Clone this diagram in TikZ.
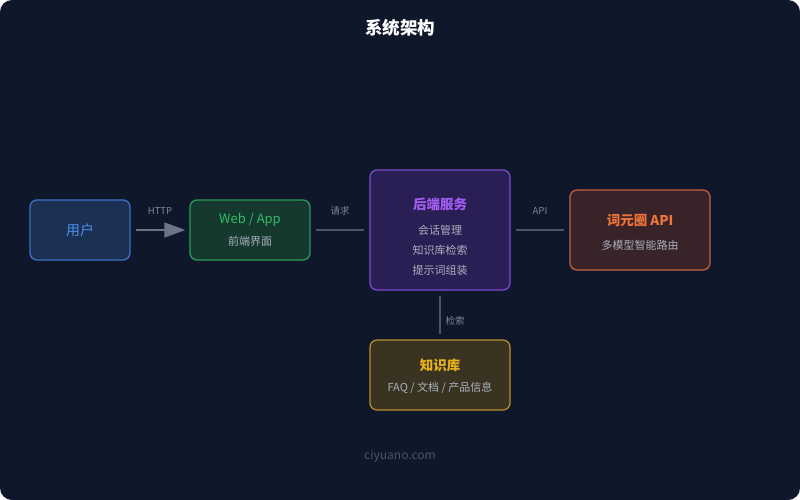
\documentclass[tikz,border=0pt]{standalone}
\usepackage{fontspec}
\setmainfont{Noto Sans CJK SC}
\usetikzlibrary{arrows.meta}

\definecolor{bgnavy}{HTML}{0F172A}
\definecolor{linegray}{HTML}{4B5568}
\definecolor{arrowgray}{HTML}{6B7585}
\definecolor{labelgray}{HTML}{7C8799}
\definecolor{subgray}{HTML}{A9B1BD}
\definecolor{footgray}{HTML}{4A5568}
% box colours
\definecolor{userfill}{HTML}{1B3052}
\definecolor{userdraw}{HTML}{3C71C9}
\definecolor{usertext}{HTML}{4F8FEA}
\definecolor{webfill}{HTML}{15382F}
\definecolor{webdraw}{HTML}{2B9A56}
\definecolor{webtext}{HTML}{2DBF63}
\definecolor{befill}{HTML}{2A1F54}
\definecolor{bedraw}{HTML}{7A4BD0}
\definecolor{betext}{HTML}{A35CF2}
\definecolor{apifill}{HTML}{372328}
\definecolor{apidraw}{HTML}{C2613E}
\definecolor{apitext}{HTML}{F0743A}
\definecolor{kbfill}{HTML}{3A3321}
\definecolor{kbdraw}{HTML}{B68F22}
\definecolor{kbtext}{HTML}{E6B21C}

\begin{document}
\begin{tikzpicture}[x=1pt, y=-1pt,
  box/.style={rounded corners=7pt, line width=1.3pt, inner sep=0pt},
  title/.style={font=\fontsize{13.5}{15}\selectfont\bfseries},
  sub/.style={font=\fontsize{11}{13}\selectfont, text=subgray},
  lbl/.style={font=\fontsize{9.5}{11}\selectfont, text=labelgray},
  link/.style={draw=linegray, line width=1.6pt}]
  \useasboundingbox (0,0) rectangle (800,500);
  \fill[white] (0,0) rectangle (800,500);
  \fill[bgnavy, rounded corners=12pt] (0,0) rectangle (800,500);

  \node[font=\fontsize{17.5}{19}\selectfont\bfseries, text=white] (head) at (400,28) {系统架构};

  % 五个框
  \node[box, fill=userfill, draw=userdraw, minimum width=100pt, minimum height=60pt] (user) at (80,230) {};
  \node[box, fill=webfill, draw=webdraw, minimum width=120pt, minimum height=60pt] (web) at (250,230) {};
  \node[box, fill=befill, draw=bedraw, minimum width=140pt, minimum height=120pt] (be) at (440,230) {};
  \node[box, fill=apifill, draw=apidraw, minimum width=140pt, minimum height=80pt] (api) at (640,230) {};
  \node[box, fill=kbfill, draw=kbdraw, minimum width=140pt, minimum height=70pt] (kb) at (440,375) {};

  % 框内文字
  \node[font=\fontsize{14}{16}\selectfont, text=usertext] at (user) {用户};
  \node[font=\fontsize{13}{15}\selectfont, text=webtext] at (250,220) {Web / App};
  \node[sub] at (250,241) {前端界面};
  \node[title, text=betext] at (440,204) {后端服务};
  \node[sub] at (440,230) {会话管理};
  \node[sub] at (440,250) {知识库检索};
  \node[sub] at (440,270) {提示词组装};
  \node[title, text=apitext] at (640,220) {词元圈 API};
  \node[sub] at (640,245) {多模型智能路由};
  \node[title, text=kbtext] at (440,365) {知识库};
  \node[sub] at (440,388) {FAQ / 文档 / 产品信息};

  % 连线
  \draw[link, draw=arrowgray, -{Triangle[length=21pt, width=15pt]}, shorten <=5pt, shorten >=4pt] (user) -- (web);
  \draw[link, shorten <=5pt, shorten >=5pt] (web) -- (be);
  \draw[link, shorten <=5pt, shorten >=5pt] (be) -- (api);
  \draw[link, shorten <=5pt, shorten >=5pt] (be) -- (kb);

  \node[lbl] at (160,211) {HTTP};
  \node[lbl] at (340,211) {请求};
  \node[lbl] at (540,211) {API};
  \node[lbl] at (455,321) {检索};

  \node[font=\fontsize{12}{14}\selectfont, text=footgray] (foot) at (400,456) {ciyuano.com};
\end{tikzpicture}
\end{document}
